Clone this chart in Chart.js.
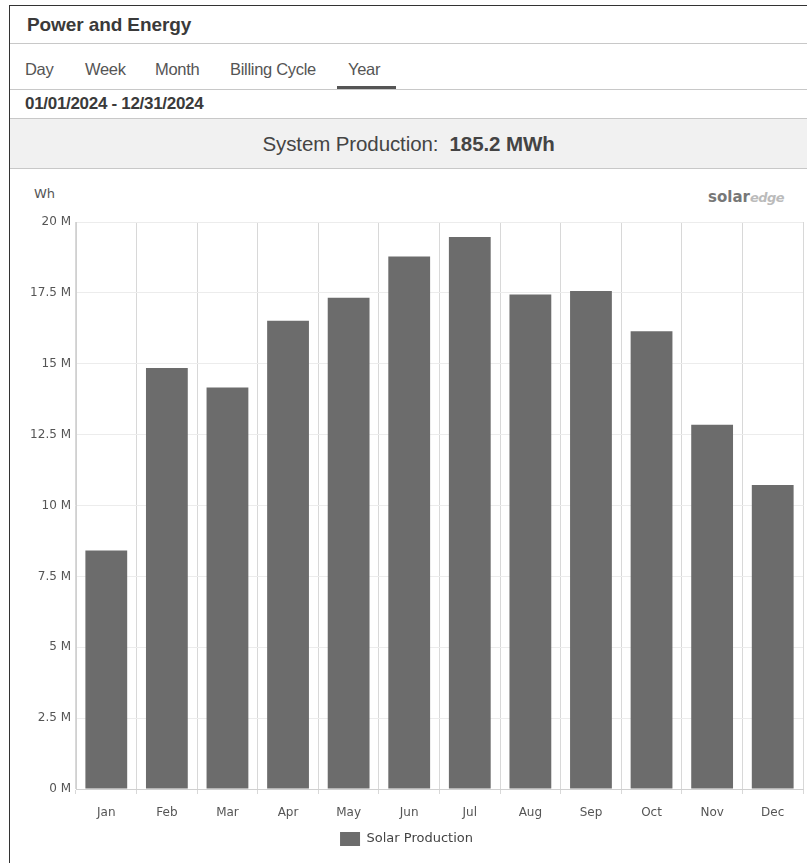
<!DOCTYPE html>
<html>
<head>
<meta charset="utf-8">
<script src="https://cdn.jsdelivr.net/npm/chart.js@4"></script>
<style>
  html, body { margin:0; padding:0; background:#fff; width:807px; height:863px; overflow:hidden; }
  #panel { position:absolute; left:9px; top:5px; width:810px; height:870px; border-left:1px solid #333; border-top:1px solid #333; font-family:"Liberation Sans", Arial, sans-serif; color:#444; }
  .abs { position:absolute; white-space:nowrap; }
  .hline { position:absolute; left:0; width:800px; height:1px; background:#c8c8c8; }
  #title { left:17px; top:8px; font-size:19px; font-weight:bold; color:#3a3a3a; letter-spacing:-0.1px; }
  .tab { top:54px; font-size:16.5px; color:#555; letter-spacing:-0.3px; }
  #underline { position:absolute; left:327px; top:80px; width:59px; height:3px; background:#555; }
  #date { left:15px; top:88px; font-size:17px; font-weight:bold; color:#3a3a3a; letter-spacing:-0.3px; }
  #band { position:absolute; left:0; top:113px; width:800px; height:49px; background:#f1f1f1; }
  #prod { left:0; width:797px; top:126px; text-align:center; font-size:20.5px; color:#444; letter-spacing:-0.1px; }
  #wh { left:24px; top:180px; font-size:13px; color:#555; font-family:"DejaVu Sans", sans-serif; }
  #logo { left:698px; top:182px; font-size:15px; font-weight:bold; color:#777; font-family:"DejaVu Sans", sans-serif; }
  #logo span { color:#bbb; font-style:italic; font-size:13px; letter-spacing:-0.5px; }
  #wrap { position:absolute; left:10px; top:180px; width:797px; height:683px; }
</style>
</head>
<body>
<div id="panel">
  <div id="title" class="abs">Power and Energy</div>
  <div class="hline" style="top:37px"></div>
  <div class="abs tab" style="left:15px">Day</div>
  <div class="abs tab" style="left:75px">Week</div>
  <div class="abs tab" style="left:145px">Month</div>
  <div class="abs tab" style="left:220px">Billing Cycle</div>
  <div class="abs tab" style="left:338px">Year</div>
  <div id="underline"></div>
  <div class="hline" style="top:83px"></div>
  <div id="date" class="abs">01/01/2024 - 12/31/2024</div>
  <div class="hline" style="top:112px"></div>
  <div id="band"></div>
  <div id="prod" class="abs">System Production:&nbsp; <b>185.2 MWh</b></div>
  <div class="hline" style="top:162px"></div>
  <div id="wh" class="abs">Wh</div>
  <div id="logo" class="abs">solar<span>edge</span></div>
</div>
<div id="wrap"><canvas id="c" width="797" height="683"></canvas></div>
<script>
const months = ["Jan","Feb","Mar","Apr","May","Jun","Jul","Aug","Sep","Oct","Nov","Dec"];
const solarProductionWh = [8.41e6, 14.85e6, 14.16e6, 16.52e6, 17.33e6, 18.78e6, 19.47e6, 17.44e6, 17.57e6, 16.15e6, 12.85e6, 10.72e6];
const yTickValues = [0, 2.5e6, 5e6, 7.5e6, 10e6, 12.5e6, 15e6, 17.5e6, 20e6];
const seriesLabel = "Solar Production";

new Chart(document.getElementById('c'), {
  type: 'bar',
  data: {
    labels: months,
    datasets: [{
      label: seriesLabel,
      data: solarProductionWh,
      backgroundColor: '#6c6c6c',
      borderWidth: 0,
      categoryPercentage: 0.69,
      barPercentage: 1.0
    }]
  },
  options: {
    responsive: false,
    animation: false,
    layout: { padding: { top: 42, right: 4, left: 0, bottom: 7 } },
    plugins: {
      tooltip: { enabled: false },
      legend: {
        position: 'bottom',
        labels: {
          boxWidth: 20, boxHeight: 14, padding: 10,
          color: '#444',
          font: { family: "'DejaVu Sans', sans-serif", size: 13 }
        }
      }
    },
    scales: {
      x: {
        grid: { offset: true, color: '#d8d8d8', tickLength: 5, drawOnChartArea: true },
        border: { color: '#d0d0d0' },
        ticks: { color: '#555', padding: 12, font: { family: "'DejaVu Sans', sans-serif", size: 12 } },
        afterFit: (s) => { s.height = 33; }
      },
      y: {
        min: 0, max: 20e6,
        afterBuildTicks: (s) => { s.ticks = yTickValues.map(v => ({ value: v })); },
        grid: { color: '#ececec', drawTicks: false },
        border: { color: '#d0d0d0' },
        ticks: {
          color: '#555', padding: 5,
          font: { family: "'DejaVu Sans', sans-serif", size: 12 },
          callback: (v) => (v / 1e6) + ' M'
        },
        afterFit: (s) => { s.width = 66; }
      }
    }
  }
});
</script>
</body>
</html>
